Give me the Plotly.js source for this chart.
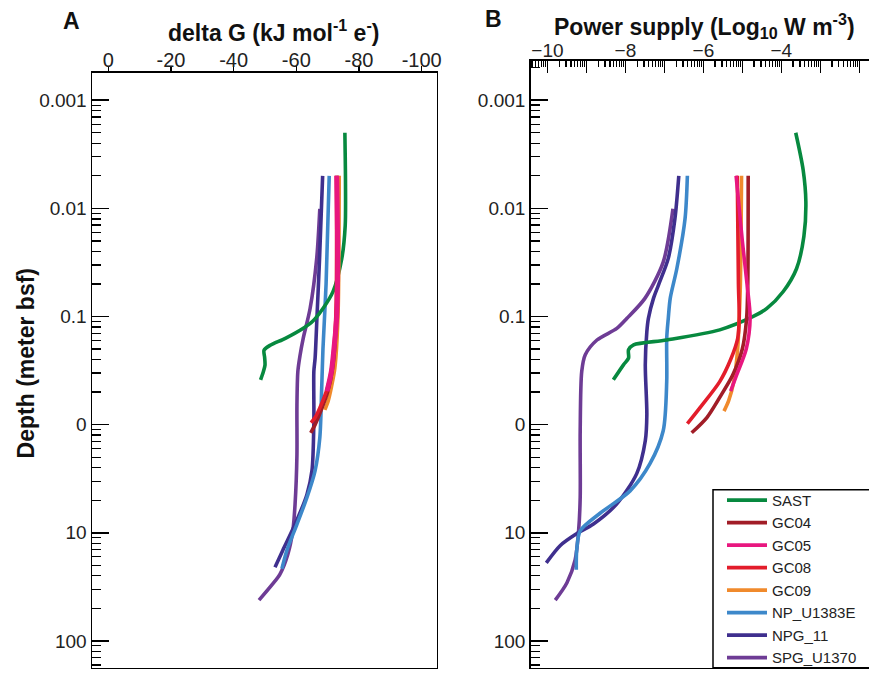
<!DOCTYPE html>
<html>
<head>
<meta charset="utf-8">
<script src="https://cdn.plot.ly/plotly-3.0.1.min.js"></script>
<style>html,body{margin:0;padding:0;background:#fff;}#chart{width:869px;height:674px;}</style>
</head>
<body>
<div id="chart"></div>
<script>
// ---- Series names ----
const seriesNames = ['SAST', 'GC04', 'GC05', 'GC08', 'GC09', 'NP_U1383E', 'NPG_11', 'SPG_U1370'];

// ---- Panel A: delta G (kJ mol-1 e-) vs depth (m bsf) ----
const sastDepthA = [0.002, 0.006, 0.0145, 0.0292, 0.0588, 0.0843, 0.11, 0.129, 0.159, 0.185, 0.205, 0.24, 0.282, 0.33, 0.385];
const sastDgA    = [-75.5, -75.7, -75.6, -74.5, -71.7, -68.5, -65.3, -62.1, -56.5, -51.6, -49.7, -49.9, -50.0, -49.4, -48.6];
const gc04DepthA = [0.005, 0.1, 0.3, 0.5, 0.75, 1.0, 1.19];
const gc04DgA    = [-73.0, -72.8, -71.6, -70.0, -67.8, -66.0, -64.6];
const gc05DepthA = [0.005, 0.03, 0.1, 0.2, 0.32, 0.489];
const gc05DgA    = [-72.9, -73.2, -72.9, -72.0, -71.2, -69.8];
const gc08DepthA = [0.005, 0.1, 0.3, 0.45, 0.7, 0.86, 0.96];
const gc08DgA    = [-72.8, -72.6, -71.3, -70.0, -67.5, -66.0, -64.7];
const gc09DepthA = [0.005, 0.1, 0.3, 0.45, 0.6, 0.73];
const gc09DgA    = [-73.7, -73.3, -72.3, -71.2, -70.2, -69.1];
const npDepthA   = [0.005, 0.05, 0.2, 0.46, 1.32, 2.66, 4.71, 8.35, 14.5, 21.5];
const npDgA      = [-70.5, -69.5, -68.5, -68.1, -67.5, -66.0, -63.4, -60.2, -57.0, -55.4];
const npgDepthA  = [0.005, 0.03, 0.1, 0.243, 0.32, 0.92, 2.66, 4.42, 8.35, 14.5, 20.8];
const npgDgA     = [-68.4, -67.4, -66.6, -66.0, -65.6, -65.6, -65.0, -63.4, -59.6, -55.7, -53.2];
const spgDepthA  = [0.0101, 0.0292, 0.0843, 0.159, 0.228, 0.32, 0.66, 1.9, 5.46, 9.48, 15.8, 24.1, 30.4, 42];
const spgDgA     = [-67.5, -66.5, -64.4, -62.2, -61.2, -60.5, -60.2, -60.2, -59.6, -58.9, -57.3, -54.8, -52.2, -48.1];

// ---- Panel B: power supply (log10 W m-3) vs depth (m bsf) ----
const sastDepthB = [0.002, 0.0044, 0.0087, 0.0181, 0.0362, 0.0588, 0.0843, 0.1, 0.133, 0.165, 0.183, 0.203, 0.243, 0.28, 0.385];
const sastPwB    = [-3.63, -3.44, -3.37, -3.42, -3.61, -3.95, -4.37, -4.72, -5.58, -6.94, -7.79, -7.92, -7.92, -8.05, -8.31];
const gc04DepthB = [0.005, 0.05, 0.104, 0.2, 0.35, 0.56, 0.86, 1.19];
const gc04PwB    = [-4.85, -4.86, -4.89, -5.0, -5.25, -5.58, -5.91, -6.30];
const gc05DepthB = [0.005, 0.02, 0.05, 0.104, 0.2, 0.35, 0.49];
const gc05PwB    = [-5.16, -5.0, -4.88, -4.80, -4.90, -5.15, -5.30];
const gc08DepthB = [0.005, 0.05, 0.104, 0.16, 0.25, 0.40, 0.7, 0.98];
const gc08PwB    = [-5.13, -5.10, -5.08, -5.12, -5.30, -5.58, -6.09, -6.41];
const gc09DepthB = [0.005, 0.05, 0.104, 0.2, 0.4, 0.6, 0.75];
const gc09PwB    = [-5.02, -5.05, -5.08, -5.12, -5.22, -5.35, -5.47];
const npDepthB   = [0.005, 0.0125, 0.036, 0.068, 0.104, 0.159, 0.4, 1.14, 2.3, 4.1, 6.6, 9.6, 14.6, 22];
const npPwB      = [-6.41, -6.47, -6.68, -6.85, -6.90, -6.94, -6.94, -7.03, -7.37, -7.88, -8.65, -9.16, -9.25, -9.26];
const npgDepthB  = [0.005, 0.0125, 0.029, 0.051, 0.068, 0.104, 0.138, 0.28, 0.81, 1.41, 2.84, 5.4, 8.3, 10.2, 13.1, 19];
const npgPwB     = [-6.63, -6.73, -6.9, -7.15, -7.28, -7.41, -7.45, -7.49, -7.45, -7.49, -7.71, -8.22, -8.82, -9.25, -9.67, -10.03];
const spgDepthB  = [0.0101, 0.0314, 0.068, 0.104, 0.129, 0.165, 0.226, 0.321, 1.14, 4.7, 9.5, 17.8, 29, 42];
const spgPwB     = [-6.78, -7.03, -7.5, -7.96, -8.22, -8.73, -9.03, -9.12, -9.16, -9.16, -9.2, -9.29, -9.5, -9.8];

// ---- Axis tick labels ----
const depthTickVals = [0.001, 0.01, 0.1, 1, 10, 100];
const depthTickText = ['0.001', '0.01', '0.1', '0', '10', '100'];
const dgTickVals = [0, -20, -40, -60, -80, -100];
const dgTickText = ['0', '-20', '-40', '-60', '-80', '-100'];
const pwTickVals = [-11, -10, -9, -8, -7, -6, -5, -4, -3, -2];
const pwTickText = ['', '\u221210', '', '\u22128', '', '\u22126', '', '\u22124', '', '\u22122'];

// ---- Styles ----
const colors = {
  'SAST': '#07893f', 'GC04': '#a11d27', 'GC05': '#e8177f', 'GC08': '#e31d2b',
  'GC09': '#f08a2c', 'NP_U1383E': '#3d88ca', 'NPG_11': '#3f2f8e', 'SPG_U1370': '#6e3c95'
};
// drawing order (back to front)
const drawOrder = [
  ['SPG_U1370', spgDepthA, spgDgA, spgDepthB, spgPwB],
  ['NPG_11', npgDepthA, npgDgA, npgDepthB, npgPwB],
  ['NP_U1383E', npDepthA, npDgA, npDepthB, npPwB],
  ['SAST', sastDepthA, sastDgA, sastDepthB, sastPwB],
  ['GC09', gc09DepthA, gc09DgA, gc09DepthB, gc09PwB],
  ['GC04', gc04DepthA, gc04DgA, gc04DepthB, gc04PwB],
  ['GC08', gc08DepthA, gc08DgA, gc08DepthB, gc08PwB],
  ['GC05', gc05DepthA, gc05DgA, gc05DepthB, gc05PwB]
];

const traces = [];
drawOrder.forEach(([name, dA, vA, dB, vB]) => {
  const rank = seriesNames.indexOf(name) + 1;
  traces.push({
    x: vA, y: dA, xaxis: 'x', yaxis: 'y', type: 'scatter', mode: 'lines', name: name,
    legendgroup: name, showlegend: false,
    line: {color: colors[name], width: name === 'GC05' ? 5 : 3.6, shape: 'spline', smoothing: 0.8}
  });
  traces.push({
    x: vB, y: dB, xaxis: 'x2', yaxis: 'y2', type: 'scatter', mode: 'lines', name: name,
    legendgroup: name, showlegend: true, legendrank: rank,
    line: {color: colors[name], width: 3.6, shape: 'spline', smoothing: 0.8}
  });
});

// mirrored minor ticks on depth axis (as in the original figure)
const depthMinor = [];
for (let k = -4; k <= 2; k++) {
  for (let m = 2; m <= 9; m++) depthMinor.push(Math.pow(10, k) * 10 / m);
}
// log-style minor ticks on power axis
const pwMinor = [];
for (let n = -11; n <= -2; n++) {
  for (let m = 2; m <= 9; m++) pwMinor.push(n + Math.log10(m));
}

const W = 869, H = 674;
const px = v => v / W;
const py = v => 1 - v / H;

const fontFam = 'Liberation Sans, Arial, Helvetica, sans-serif';
const yBase = {
  type: 'log', tickmode: 'array', tickvals: depthTickVals, ticktext: depthTickText,
  ticks: 'inside', ticklen: 17, tickwidth: 1.5, tickcolor: '#000',
  minor: {tickmode: 'array', tickvals: depthMinor, ticks: 'inside', ticklen: 9, tickwidth: 1.3, tickcolor: '#000'},
  showline: true, linecolor: '#000', linewidth: 1.5, mirror: true,
  showgrid: false, zeroline: false, tickfont: {size: 19, color: '#222', family: fontFam}
};

const layout = {
  width: W, height: H,
  margin: {l: 0, r: 0, t: 0, b: 0},
  paper_bgcolor: '#fff', plot_bgcolor: '#fff',
  font: {family: fontFam, color: '#111'},
  showlegend: true,
  xaxis: {
    domain: [px(92), px(436.7)], range: [5.2, -104.8], side: 'top', anchor: 'y',
    tickmode: 'array', tickvals: dgTickVals, ticktext: dgTickText,
    ticks: 'outside', ticklen: 5, tickwidth: 1.5, tickcolor: '#000', ticklabelstandoff: -9,
    showline: true, linecolor: '#000', linewidth: 1.5, mirror: true,
    showgrid: false, zeroline: false, tickfont: {size: 20, color: '#222', family: fontFam}
  },
  yaxis: Object.assign({}, yBase, {domain: [1 - 670.7 / H, py(73)], range: [2.248, -3.255], anchor: 'x'}),
  xaxis2: {
    domain: [px(530.7), 1], range: [-10.43, -1.75], side: 'top', anchor: 'y2',
    tickmode: 'array', tickvals: pwTickVals, ticktext: pwTickText,
    ticks: 'inside', ticklen: 12, tickwidth: 1.5, tickcolor: '#000', ticklabelstandoff: -5,
    minor: {tickmode: 'array', tickvals: pwMinor, ticks: 'inside', ticklen: 6, tickwidth: 1.2, tickcolor: '#000'},
    showline: true, linecolor: '#000', linewidth: 1.5, mirror: true,
    showgrid: false, zeroline: false, tickfont: {size: 19, color: '#222', family: fontFam}
  },
  yaxis2: Object.assign({}, yBase, {domain: [1 - 670.7 / H, py(61)], range: [2.248, -3.365], anchor: 'x2'}),
  legend: {
    x: px(722), y: py(486), xanchor: 'left', yanchor: 'top',
    bgcolor: 'rgba(0,0,0,0)', borderwidth: 0,
    font: {size: 15, color: '#222', family: fontFam},
    traceorder: 'grouped', tracegroupgap: 0, itemwidth: 40
  },
  shapes: [
    {type: 'rect', xref: 'paper', yref: 'paper', x0: px(713), x1: px(900), y0: 1 - 670.7 / H, y1: py(492),
     line: {color: '#000', width: 1.5}, fillcolor: '#fff', layer: 'below'}
  ],
  annotations: [
    {text: '<b>A</b>', x: px(71), y: py(21), xref: 'paper', yref: 'paper', showarrow: false,
     xanchor: 'center', yanchor: 'middle', font: {size: 23, color: '#111'}},
    {text: '<b>B</b>', x: px(493), y: py(19), xref: 'paper', yref: 'paper', showarrow: false,
     xanchor: 'center', yanchor: 'middle', font: {size: 23, color: '#111'}},
    {text: '<b>delta G (kJ mol<sup>-1</sup> e<sup>-</sup>)</b>', x: px(273), y: py(31), xref: 'paper', yref: 'paper',
     showarrow: false, xanchor: 'center', yanchor: 'middle', font: {size: 23, color: '#111'}},
    {text: '<b>Power supply (Log<sub>10</sub> W m<sup>-3</sup>)</b>', x: px(704), y: py(26), xref: 'paper', yref: 'paper',
     showarrow: false, xanchor: 'center', yanchor: 'middle', font: {size: 23, color: '#111'}},
    {text: '<b>Depth (meter bsf)</b>', x: px(26), y: py(365), xref: 'paper', yref: 'paper', textangle: -90,
     showarrow: false, xanchor: 'center', yanchor: 'middle', font: {size: 23, color: '#111'}}
  ]
};

Plotly.newPlot('chart', traces, layout, {staticPlot: true, displayModeBar: false});
</script>
</body>
</html>
